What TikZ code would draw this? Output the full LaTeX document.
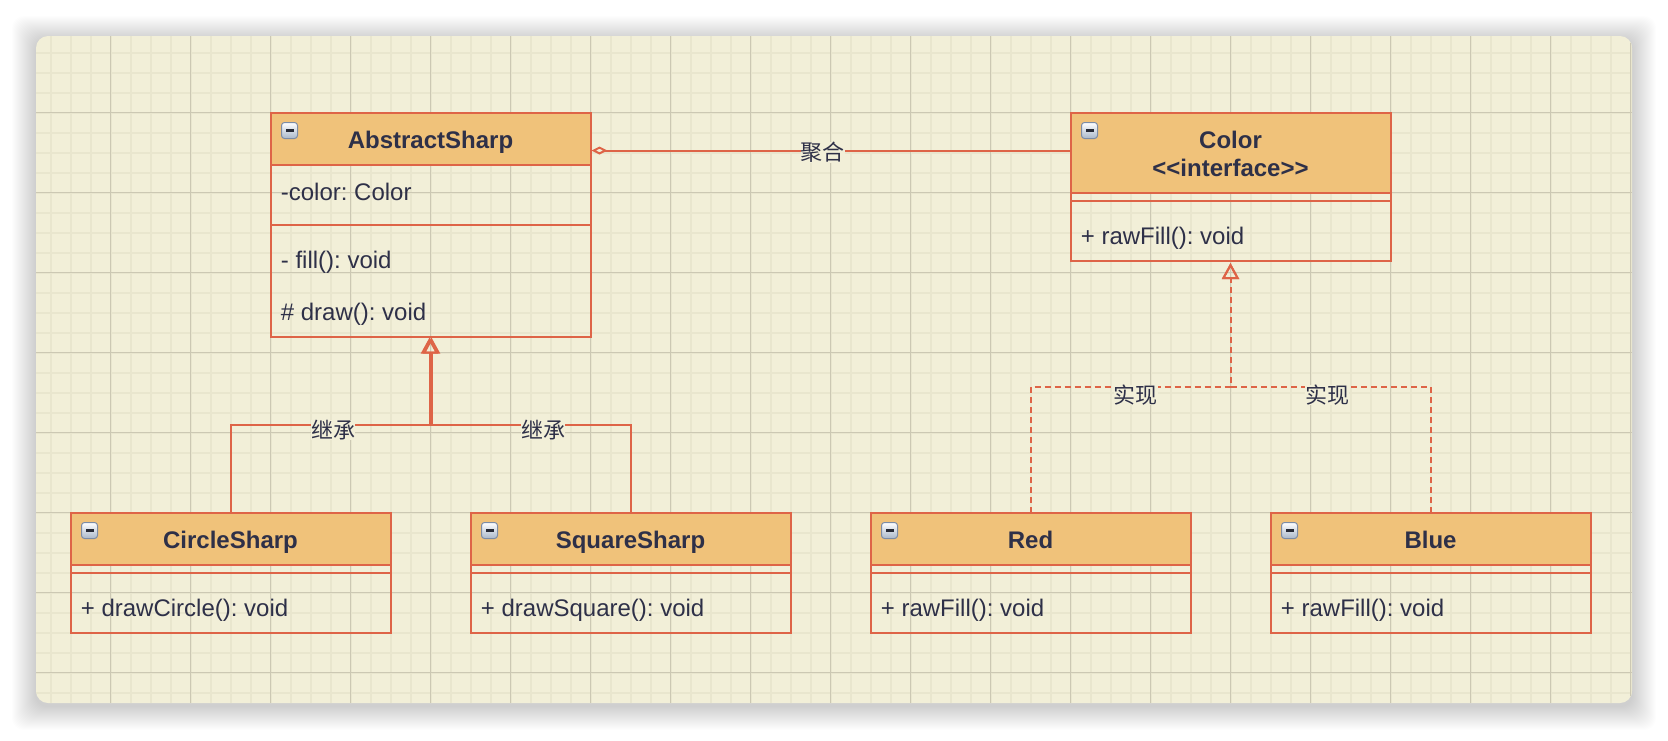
\documentclass[tikz,border=0pt]{standalone}
\usepackage{fontspec}
\setmainfont{Liberation Sans}
\newfontfamily\cjk{Noto Sans CJK SC}
\usetikzlibrary{arrows.meta,calc}
\definecolor{canvasc}{HTML}{F2EFD8}
\definecolor{hdrc}{HTML}{F0C27A}
\definecolor{strokec}{HTML}{DE6447}
\definecolor{fontc}{HTML}{2E3048}
\definecolor{minorc}{HTML}{E9E6CE}
\definecolor{majorc}{HTML}{CCC8B3}
\definecolor{icbord}{HTML}{7C8CA6}
\definecolor{icbot}{HTML}{A9B7C9}
\definecolor{icbar}{HTML}{262A36}
\tikzset{
  hdr/.style={draw=strokec, fill=hdrc, line width=1pt, minimum width=160pt, inner sep=0pt, outer sep=0pt},
  bodyb/.style={draw=strokec, line width=1pt, minimum width=160pt, inner sep=0pt, outer sep=0pt, anchor=north},
  sepline/.style={draw=strokec, line width=1pt},
  ttl/.style={anchor=base, inner sep=0pt, text=fontc, font=\frenchspacing\bfseries\fontsize{12}{14}\selectfont},
  member/.style={anchor=base west, inner sep=0pt, text=fontc, font=\frenchspacing\fontsize{12}{14}\selectfont},
  lbl/.style={fill=canvasc, inner sep=0pt, text=fontc, font=\cjk\fontsize{11}{13}\selectfont},
  conn/.style={draw=strokec, line width=1pt},
  inh/.style={conn, -{Triangle[open, length=8pt, width=8.5pt]}},
  realz/.style={conn, dash pattern=on 3pt off 2pt, -{Triangle[open, length=8pt, width=8.5pt]}},
  aggr/.style={conn, {Diamond[open, length=8pt, width=4pt]}-},
  minorg/.style={draw=minorc, line width=1pt},
  majorg/.style={draw=majorc, line width=0.5pt},
}
\newcommand\mkicon[1]{%
  \draw[rounded corners=1.5pt, draw=icbord, line width=0.5pt, top color=white, bottom color=icbot]
    ($(#1.north west)+(11,10)$) rectangle ++(16,16);
  \fill[icbar] ($(#1.north west)+(15,16.5)$) rectangle ++(8,3);
}
\begin{document}
\frenchspacing
\begin{tikzpicture}[x=0.5pt, y=-0.5pt]
\useasboundingbox (0,0) rectangle (1668,740);
\fill[white] (0,0) rectangle (1668,740);
% soft shadow
\foreach \i in {1,2,...,24}
  \fill[black, opacity=0.007, rounded corners=6pt] (36-\i,36-\i+4) rectangle (1632+\i,703+\i+3);
% panel
\fill[canvasc, rounded corners=6pt] (36,36) rectangle (1632,703);
\begin{scope}
  \clip[rounded corners=6pt] (36,36) rectangle (1632,703);
  \foreach \x in {50.5,70.5,...,1630.5} \draw[minorg] (\x,36) -- (\x,703);
  \foreach \y in {52.5,72.5,...,692.5} \draw[minorg] (36,\y) -- (1632,\y);
  \foreach \x in {110.5,190.5,...,1630.5} \draw[majorg] (\x,36) -- (\x,703);
  \foreach \y in {112.5,192.5,...,672.5} \draw[majorg] (36,\y) -- (1632,\y);
\end{scope}

% ---------- classes ----------
% AbstractSharp
\node[hdr, minimum height=26pt] (abs) at (430.5,138.5) {};
\node[bodyb, minimum height=86pt] (absb) at (abs.south) {};
\draw[sepline] ($(absb.north west)+(0,60)$) -- ($(absb.north east)+(0,60)$);
\node[ttl] (abst) at ($(abs.north)+(0,36)$) {AbstractSharp};
\node[member] (absm1) at ($(absb.north west)+(10,35.5)$) {-color: Color};
\node[member] (absm2) at ($(absb.north west)+(10,103.5)$) {- fill(): void};
\node[member] (absm3) at ($(absb.north west)+(10,155.5)$) {\# draw(): void};
\mkicon{abs}

% Color
\node[hdr, minimum height=40pt] (col) at (1230.5,152.5) {};
\node[bodyb, minimum height=34pt] (colb) at (col.south) {};
\draw[sepline] ($(colb.north west)+(0,8)$) -- ($(colb.north east)+(0,8)$);
\node[ttl] (colt1) at ($(col.north)+(0,36)$) {Color};
\node[ttl] (colt2) at ($(col.north)+(0,64)$) {<\kern0pt<interface>\kern0pt>};
\node[member] (colm1) at ($(colb.north west)+(10,51.5)$) {+ rawFill(): void};
\mkicon{col}

% CircleSharp
\node[hdr, minimum height=26pt] (circ) at (230.5,538.5) {};
\node[bodyb, minimum height=34pt] (circb) at (circ.south) {};
\draw[sepline] ($(circb.north west)+(0,8)$) -- ($(circb.north east)+(0,8)$);
\node[ttl] (circt) at ($(circ.north)+(0,36)$) {CircleSharp};
\node[member] (circm) at ($(circb.north west)+(10,51.5)$) {+ drawCircle(): void};
\mkicon{circ}

% SquareSharp
\node[hdr, minimum height=26pt] (sq) at (630.5,538.5) {};
\node[bodyb, minimum height=34pt] (sqb) at (sq.south) {};
\draw[sepline] ($(sqb.north west)+(0,8)$) -- ($(sqb.north east)+(0,8)$);
\node[ttl] (sqt) at ($(sq.north)+(0,36)$) {SquareSharp};
\node[member] (sqm) at ($(sqb.north west)+(10,51.5)$) {+ drawSquare(): void};
\mkicon{sq}

% Red
\node[hdr, minimum height=26pt] (red) at (1030.5,538.5) {};
\node[bodyb, minimum height=34pt] (redb) at (red.south) {};
\draw[sepline] ($(redb.north west)+(0,8)$) -- ($(redb.north east)+(0,8)$);
\node[ttl] (redt) at ($(red.north)+(0,36)$) {Red};
\node[member] (redm) at ($(redb.north west)+(10,51.5)$) {+ rawFill(): void};
\mkicon{red}

% Blue
\node[hdr, minimum height=26pt] (blue) at (1430.5,538.5) {};
\node[bodyb, minimum height=34pt] (blueb) at (blue.south) {};
\draw[sepline] ($(blueb.north west)+(0,8)$) -- ($(blueb.north east)+(0,8)$);
\node[ttl] (bluet) at ($(blue.north)+(0,36)$) {Blue};
\node[member] (bluem) at ($(blueb.north west)+(10,51.5)$) {+ rawFill(): void};
\mkicon{blue}

% ---------- connectors ----------
\draw[aggr] ($(abs.east)+(1,12)$) -- ($(col.west)+(0,-2)$);

\coordinate (itrunk) at (430.5,424.5);
\draw[inh] (circ.north) |- ($(itrunk)+(-1,0)$) -- ($(absb.south)+(-1,1)$);
\draw[inh] (sq.north) |- ($(itrunk)+(1,0)$) -- ($(absb.south)+(1,1)$);

\coordinate (rtrunk) at (1230.5,386.5);
\draw[realz] (red.north) |- (rtrunk) -- ($(colb.south)+(0,2.5)$);
\draw[realz] (blue.north) |- (rtrunk) -- ($(colb.south)+(0,2.5)$);

% ---------- labels ----------
\node[lbl] (agl) at (822.5,152.5) {聚合};
\node[lbl] (inl1) at (333,430) {继承};
\node[lbl] (inl2) at (543,430) {继承};
\node[lbl] (rel1) at (1135.5,395) {实现};
\node[lbl] (rel2) at (1327,395) {实现};
\end{tikzpicture}
\end{document}
